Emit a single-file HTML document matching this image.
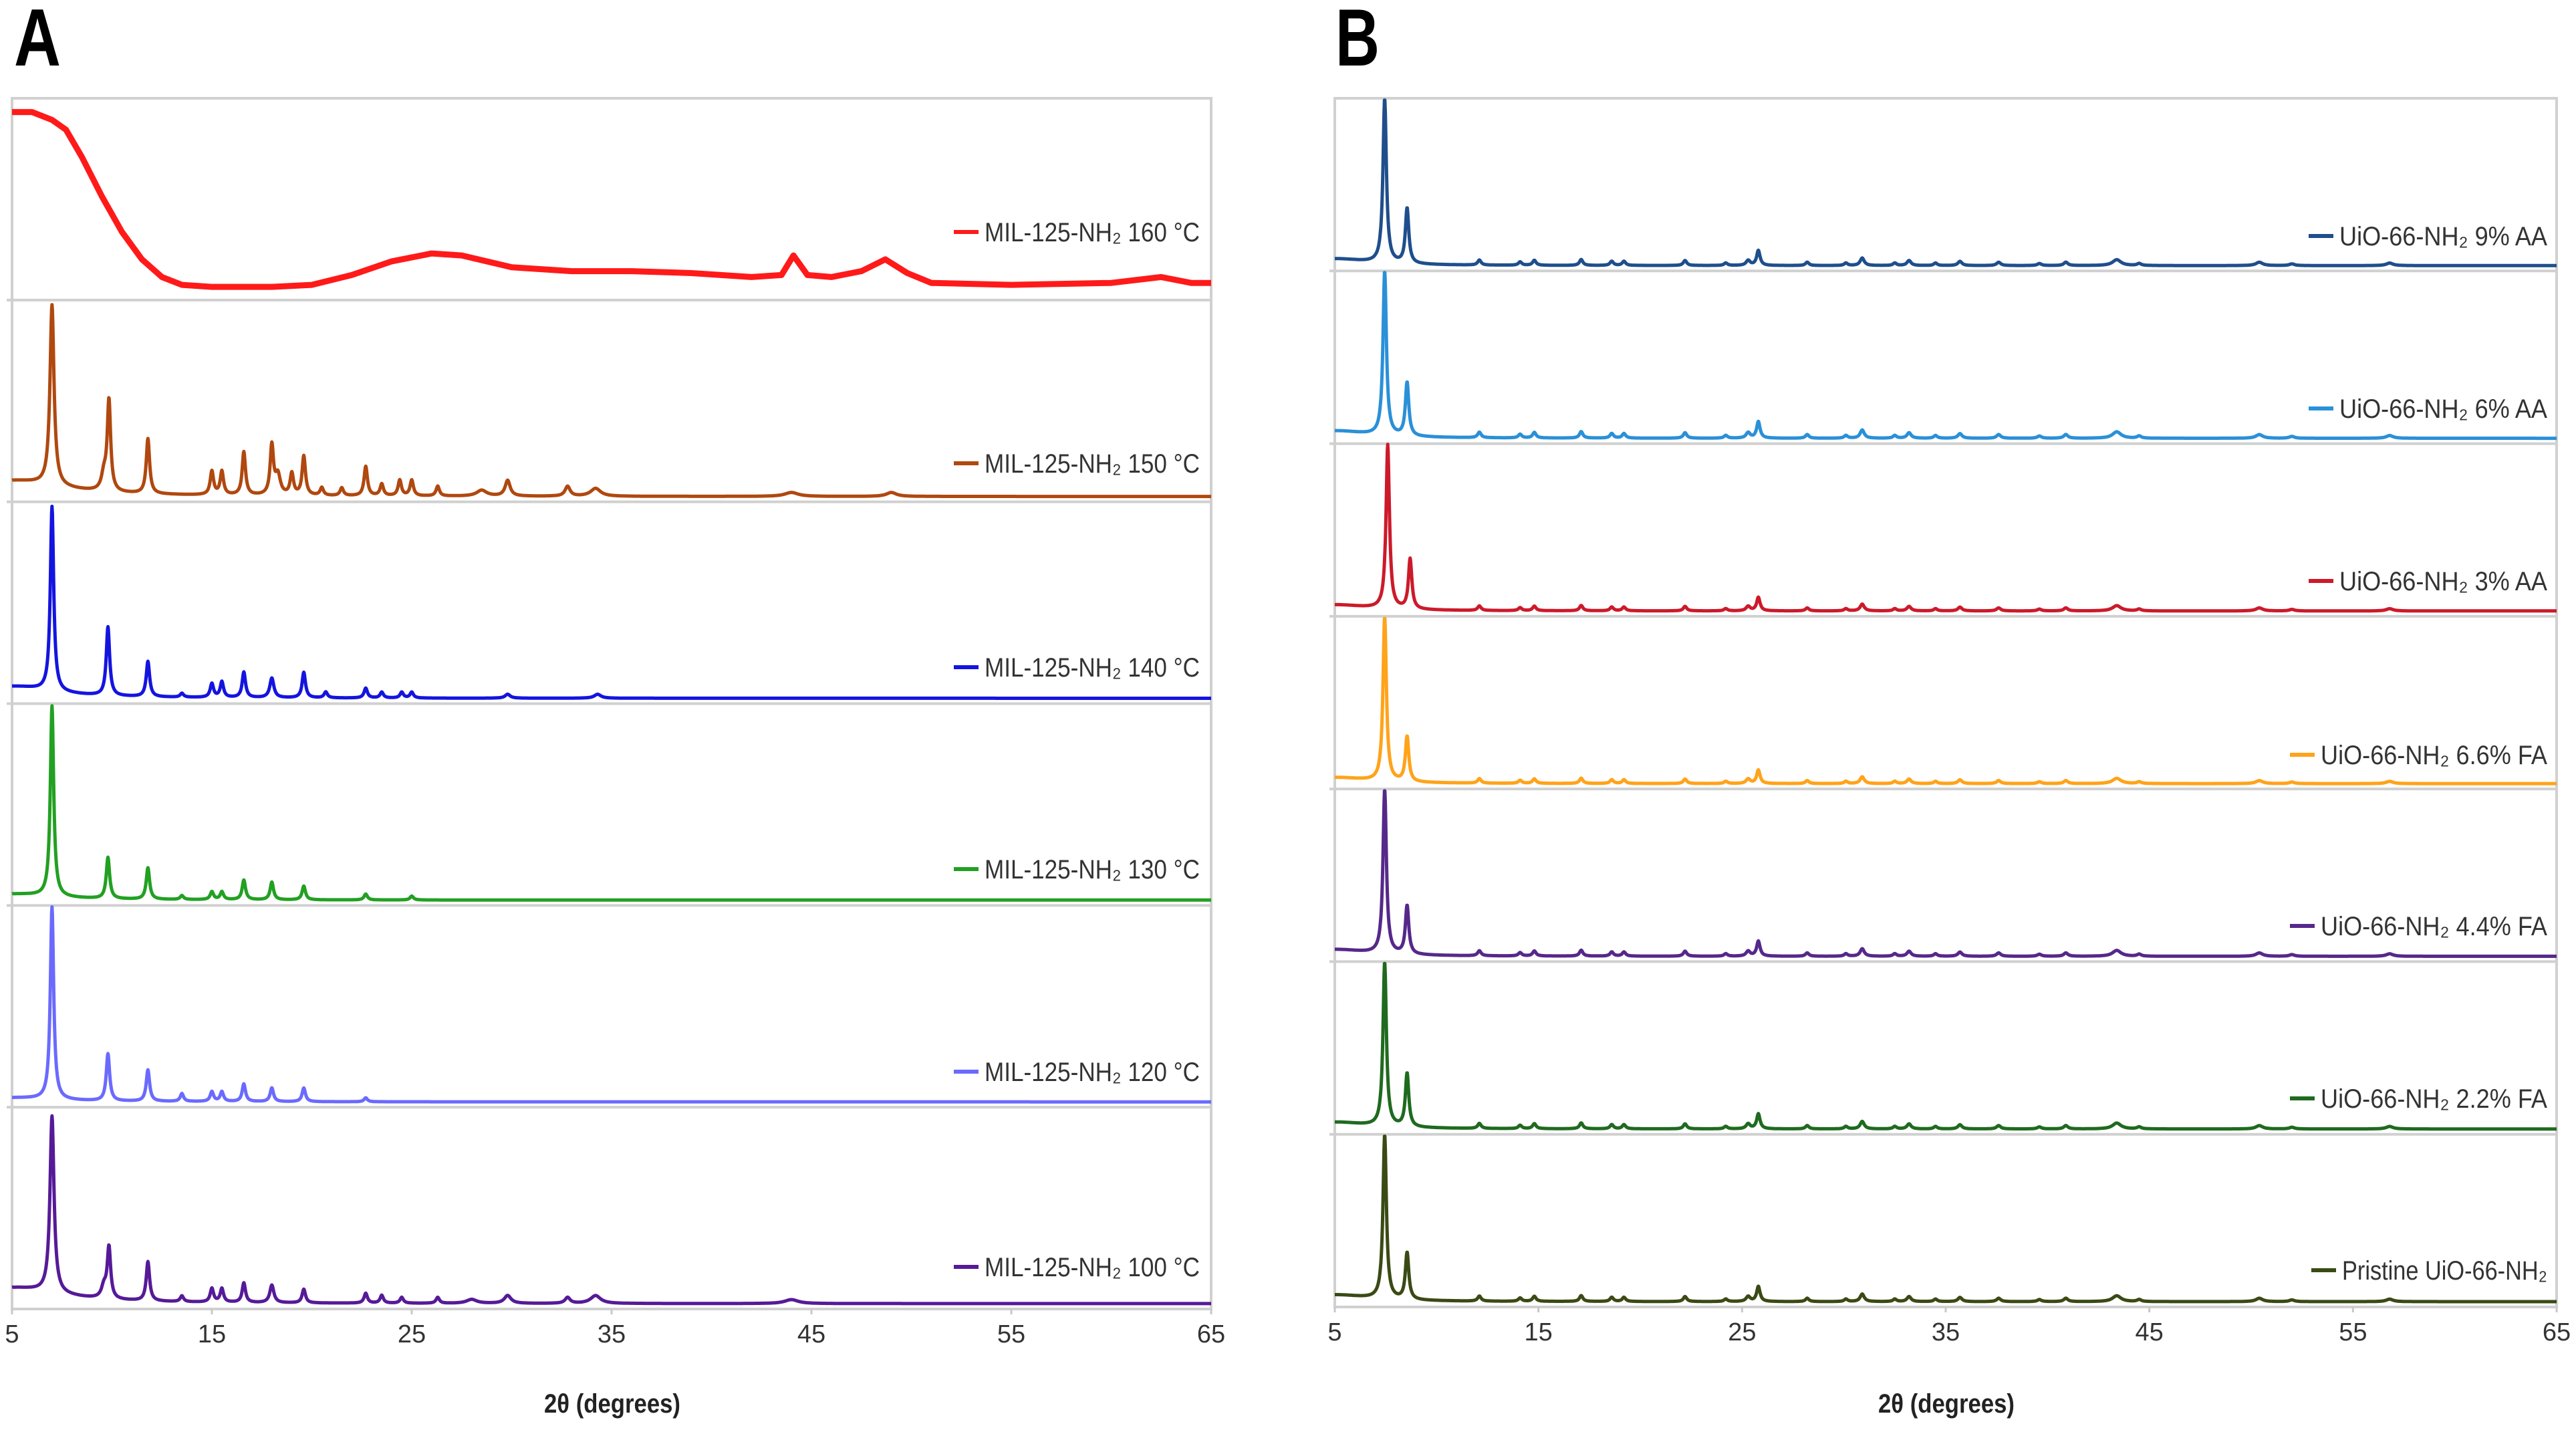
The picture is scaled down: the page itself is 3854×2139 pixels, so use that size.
<!DOCTYPE html>
<html><head><meta charset="utf-8"><style>
html,body{margin:0;padding:0;background:#fff;}
svg{display:block;}
text{font-family:"Liberation Sans",sans-serif;}
</style></head><body>
<svg id="fig" width="3854" height="2139" viewBox="0 0 3854 2139" xmlns="http://www.w3.org/2000/svg">
<text x="21" y="98" font-size="122" font-weight="bold" textLength="70" lengthAdjust="spacingAndGlyphs">A</text>
<text x="1998" y="98" font-size="122" font-weight="bold" textLength="66" lengthAdjust="spacingAndGlyphs">B</text>
<g id="panelA"></g>
<g id="panelB"></g>
</svg>
<script>
// ---- shared axis ----
const xTicks = [5, 15, 25, 35, 45, 55, 65];
const xMin = 5, xMax = 65;

// ---- Panel A data (peak lists: [2theta, height (band fraction), HWHM deg]) ----
const aNames = ["MIL-125-NH₂ 160 °C","MIL-125-NH₂ 150 °C","MIL-125-NH₂ 140 °C","MIL-125-NH₂ 130 °C","MIL-125-NH₂ 120 °C","MIL-125-NH₂ 100 °C"];
const aColors = ["#ff1a1a","#b0480f","#1414e0","#22a022","#6a6aff","#561a98"];
const aLegendY = [347, 693, 998, 1300, 1603, 1895];
const aLegendW = [322, 322, 322, 322, 322, 322];
// amorphous 160 °C trace envelope: [2theta, intensity]
const a160Points = [[5,0.93],[6,0.93],[7,0.89],[7.7,0.84],[8.5,0.7],[9.5,0.5],[10.5,0.32],[11.5,0.18],[12.5,0.09],[13.5,0.05],[15,0.04],[18,0.04],[20,0.05],[22,0.1],[24,0.17],[26,0.21],[27.5,0.2],[30,0.14],[33,0.12],[36,0.12],[39,0.11],[42,0.09],[43.5,0.1],[44.1,0.2],[44.8,0.1],[46,0.09],[47.5,0.12],[48.7,0.18],[49.8,0.11],[51,0.06],[55,0.05],[60,0.06],[62.5,0.09],[64,0.06],[65,0.06]];
const a150Peaks = [[5,0.08,3],[7,0.92,0.12],[9.6,0.08,0.15],[9.85,0.46,0.1],[11.8,0.28,0.1],[15,0.12,0.1],[15.5,0.12,0.1],[16.6,0.22,0.1],[18,0.25,0.1],[18.3,0.1,0.15],[19,0.11,0.1],[19.6,0.2,0.1],[20.5,0.04,0.1],[21.5,0.04,0.1],[22.7,0.15,0.1],[23.5,0.06,0.1],[24.4,0.08,0.1],[25,0.08,0.1],[26.3,0.05,0.1],[28.5,0.03,0.3],[29.8,0.08,0.15],[32.8,0.05,0.15],[34.2,0.04,0.3],[44,0.02,0.4],[49,0.02,0.3]];
const a140Peaks = [[5,0.06,2.5],[7,0.94,0.1],[9.8,0.35,0.1],[11.8,0.18,0.1],[13.5,0.02,0.1],[15,0.07,0.1],[15.5,0.08,0.1],[16.6,0.13,0.1],[18,0.1,0.12],[19.6,0.13,0.1],[20.7,0.03,0.1],[22.7,0.05,0.1],[23.5,0.03,0.1],[24.5,0.03,0.1],[25,0.03,0.1],[29.8,0.02,0.15],[34.3,0.02,0.2]];
const a130Peaks = [[5,0.03,2.5],[7,0.97,0.1],[9.8,0.21,0.1],[11.8,0.16,0.1],[13.5,0.02,0.1],[15,0.04,0.1],[15.5,0.04,0.1],[16.6,0.1,0.1],[18,0.09,0.1],[19.6,0.07,0.1],[22.7,0.03,0.1],[25,0.02,0.1]];
const a120Peaks = [[5,0.02,2.5],[7,0.98,0.1],[9.8,0.24,0.1],[11.8,0.16,0.1],[13.5,0.04,0.1],[15,0.05,0.1],[15.5,0.05,0.1],[16.6,0.09,0.1],[18,0.07,0.1],[19.6,0.07,0.1],[22.7,0.02,0.1]];
const a100Peaks = [[5,0.08,3],[7,0.9,0.12],[9.6,0.06,0.15],[9.85,0.26,0.1],[11.8,0.2,0.1],[13.5,0.03,0.1],[15,0.07,0.1],[15.5,0.07,0.1],[16.6,0.1,0.1],[18,0.09,0.12],[19.6,0.07,0.1],[22.7,0.05,0.1],[23.5,0.04,0.1],[24.5,0.03,0.1],[26.3,0.03,0.1],[28,0.02,0.3],[29.8,0.04,0.2],[32.8,0.03,0.15],[34.2,0.04,0.3],[44,0.02,0.4]];

// ---- Panel B data ----
const bNames = ["UiO-66-NH₂ 9% AA","UiO-66-NH₂ 6% AA","UiO-66-NH₂ 3% AA","UiO-66-NH₂ 6.6% FA","UiO-66-NH₂ 4.4% FA","UiO-66-NH₂ 2.2% FA","Pristine UiO-66-NH₂"];
const bColors = ["#1f4e8c","#2a90d8","#cc1a2a","#ffa31a","#56288a","#1f6a1f","#3a4a14"];
const bLegendY = [353, 611, 869, 1129, 1385, 1643, 1900];
const bLegendW = [311, 311, 311, 339, 339, 339, 307];
const bMainPos = [7.45, 7.45, 7.6, 7.45, 7.45, 7.45, 7.45];
const bMainH = [0.98, 0.98, 0.98, 0.98, 0.98, 0.98, 0.98];
const bSecondPos = [8.55, 8.55, 8.7, 8.55, 8.55, 8.55, 8.55];
const bSecondH = [0.33, 0.32, 0.3, 0.27, 0.29, 0.32, 0.28];
const bMinorScale = [1.0, 1.1, 0.9, 0.9, 1.0, 1.0, 1.0];
const bMinorPeaks = [[5,0.04,2],[12.1,0.03,0.1],[14.1,0.02,0.1],[14.8,0.03,0.1],[17.1,0.035,0.1],[18.6,0.025,0.1],[19.2,0.025,0.1],[22.2,0.03,0.1],[24.2,0.015,0.1],[25.3,0.03,0.12],[25.8,0.09,0.1],[28.2,0.02,0.1],[30.1,0.015,0.1],[30.9,0.045,0.12],[32.5,0.015,0.1],[33.2,0.03,0.12],[34.5,0.015,0.1],[35.7,0.025,0.12],[37.6,0.02,0.12],[39.6,0.012,0.12],[40.9,0.02,0.12],[43.4,0.035,0.25],[44.5,0.012,0.12],[50.4,0.02,0.2],[52,0.01,0.15],[56.8,0.015,0.2]];

const NS = "http://www.w3.org/2000/svg";
function mk(tag, attrs, parent){ const e=document.createElementNS(NS,tag); for(const k in attrs) e.setAttribute(k,attrs[k]); parent.appendChild(e); return e; }
function lor(x,p){ const d=(x-p[0])/p[2]; return p[1]/(1+d*d); }

function panel(g, cfg){
  const L=cfg.left,R=cfg.right,T=cfg.top,B=cfg.bottom,n=cfg.n;
  const band=(B-T)/n;
  const xs = v => L + (v-xMin)/(xMax-xMin)*(R-L);
  const frame = mk("rect",{x:L,y:T,width:R-L,height:B-T,fill:"none",stroke:"#d0d0d0","stroke-width":4},g);
  
  
  for(let i=1;i<n;i++){
    const sep = mk("line",{x1:L-8,x2:R,y1:T+band*i,y2:T+band*i,stroke:"#d0d0d0","stroke-width":4},g);
    
    
  }
  xTicks.forEach(t=>{
    const tk = mk("line",{x1:xs(t),x2:xs(t),y1:B,y2:B+8,stroke:"#c8c8c8","stroke-width":3},g);
    
    
    const lb = mk("text",{x:xs(t),y:B+50,"font-size":38,"text-anchor":"middle",fill:"#333"},g);
    
    
    lb.textContent=t;
  });
  const ttl = mk("text",{x:cfg.titleX,y:2113,"font-size":40,"font-weight":"bold",fill:"#222",textLength:204,lengthAdjust:"spacingAndGlyphs"},g);
  
  
  ttl.textContent="2θ (degrees)";
  cfg.series.forEach((s,i)=>{
    const base = T+band*(i+1)-8;
    const ys = v => base - v*(band-8);
    let d="";
    if(s.points){
      s.points.forEach((p,j)=>{ d+=(j?"L":"M")+xs(p[0]).toFixed(1)+","+ys(p[1]).toFixed(1); });
    } else {
      for(let x=xMin;x<=xMax+1e-9;x+=0.02){
        let v=0; s.peaks.forEach(p=>{ v+=lor(x,p); });
        d+=(x===xMin?"M":"L")+xs(x).toFixed(1)+","+ys(Math.min(v,1)).toFixed(1);
      }
    }
    const path = mk("path",{d:d,fill:"none",stroke:s.color,"stroke-width":s.points?9:5,"stroke-linejoin":"round"},g);
    
    
    const ly=s.ly;
    const tx = mk("text",{x:cfg.legRight,y:ly+14,"font-size":40,"text-anchor":"end",fill:"#333",textLength:s.tl,lengthAdjust:"spacingAndGlyphs"},g);
    
    
    tx.textContent=s.name;
    const sw = mk("line",{x1:cfg.legRight-s.tl-46,x2:cfg.legRight-s.tl-9,y1:ly,y2:ly,stroke:s.color,"stroke-width":6},g);
    
    
  });
}

const aPeakSets=[null,a150Peaks,a140Peaks,a130Peaks,a120Peaks,a100Peaks];
const aSeries = aNames.map((nm,i)=>({name:nm,color:aColors[i],ly:aLegendY[i],tl:aLegendW[i],points:i===0?a160Points:null,peaks:aPeakSets[i]}));
panel(document.getElementById("panelA"),{left:18,right:1812,top:147,bottom:1958,n:6,series:aSeries,legRight:1795,titleX:814});

const bSeries = bNames.map((nm,i)=>{
  const peaks=[[bMainPos[i],bMainH[i],0.1],[bSecondPos[i],bSecondH[i],0.1]];
  bMinorPeaks.forEach(p=>peaks.push([p[0],p[1]*bMinorScale[i],p[2]]));
  return {name:nm,color:bColors[i],ly:bLegendY[i],tl:bLegendW[i],peaks:peaks};
});
panel(document.getElementById("panelB"),{left:1997,right:3825,top:147,bottom:1955,n:7,series:bSeries,legRight:3811,titleX:2810});
</script>
</body></html>
